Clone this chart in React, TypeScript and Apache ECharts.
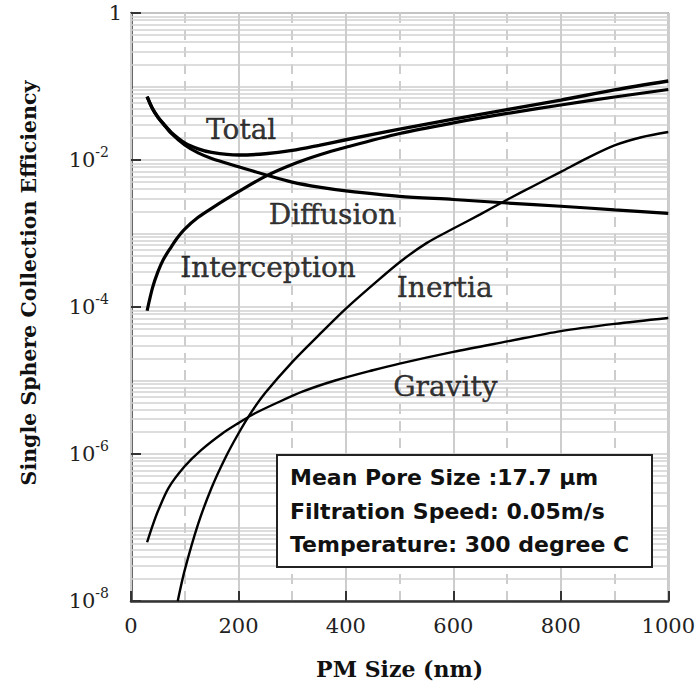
import React, { useEffect, useRef } from "react";
import * as echarts from "echarts";

// ---- data ----
const diffusionX = [30, 40, 50, 60, 75, 100, 125, 150, 200, 250, 300, 350, 400, 500, 600, 700, 800, 900, 1000];
const diffusionY = [0.073, 0.05, 0.038, 0.031, 0.023, 0.016, 0.0125, 0.0105, 0.0081, 0.0063, 0.005, 0.00427, 0.0038, 0.0032, 0.0029, 0.0026, 0.00235, 0.0021, 0.00188];

const interceptionX = [30, 40, 50, 60, 75, 85, 100, 125, 150, 200, 250, 300, 350, 400, 500, 600, 700, 800, 900, 1000];
const interceptionY = [8.9e-5, 1.82e-4, 3.0e-4, 4.4e-4, 6.6e-4, 8.5e-4, 1.15e-3, 1.66e-3, 2.2e-3, 3.7e-3, 6.0e-3, 8.7e-3, 0.0117, 0.0149, 0.0229, 0.032, 0.043, 0.056, 0.072, 0.091];

const totalX = [30, 40, 50, 60, 75, 100, 125, 150, 200, 250, 300, 350, 400, 500, 600, 700, 800, 900, 1000];
const totalY = [0.073, 0.05, 0.0385, 0.0314, 0.0237, 0.0171, 0.0142, 0.0127, 0.0117, 0.01216, 0.0135, 0.01585, 0.01884, 0.0263, 0.0359, 0.0485, 0.0653, 0.09, 0.119];

const inertiaX = [87, 100, 125, 150, 175, 200, 225, 250, 300, 350, 400, 450, 500, 550, 600, 650, 700, 750, 800, 850, 900, 950, 1000];
const inertiaY = [1e-8, 2.63e-8, 1.12e-7, 3.47e-7, 8.7e-7, 1.9e-6, 3.8e-6, 6.8e-6, 1.78e-5, 4.17e-5, 9.5e-5, 2.0e-4, 4.07e-4, 7.4e-4, 1.17e-3, 1.82e-3, 2.88e-3, 4.47e-3, 6.9e-3, 0.0107, 0.0158, 0.0204, 0.024];

const gravityX = [30, 40, 50, 70, 100, 130, 170, 200, 230, 270, 320, 380, 450, 500, 600, 700, 800, 900, 1000];
const gravityY = [6.3e-8, 1.05e-7, 1.66e-7, 3.47e-7, 6.8e-7, 1.12e-6, 1.9e-6, 2.63e-6, 3.55e-6, 4.9e-6, 7.1e-6, 1.0e-5, 1.38e-5, 1.7e-5, 2.45e-5, 3.4e-5, 4.7e-5, 5.9e-5, 7.1e-5];

const curveNames = ["Total", "Diffusion", "Interception", "Inertia", "Gravity"];
const curveLabelX = [205, 375, 255, 584, 585];
const curveLabelY = [0.0264, 1.84e-3, 3.5e-4, 1.84e-4, 8.2e-6];

const yLabelTicks = [1, 1e-2, 1e-4, 1e-6, 1e-8];
const minorDigits = [2, 3, 4, 5, 6, 7, 8, 9];
const decadeExps = [-8, -7, -6, -5, -4, -3, -2, -1];

const infoLines = ["Mean Pore Size :17.7 µm", "Filtration Speed: 0.05m/s", "Temperature: 300 degree C"];

const pairs = (xs: number[], ys: number[]) => xs.map((x, i) => [x, ys[i]]);

const SERIF = "DejaVu Serif";
const SANS = "DejaVu Sans";

export default function App() {
  const ref = useRef<HTMLDivElement>(null);

  useEffect(() => {
    if (!ref.current) return;
    const chart = echarts.init(ref.current, undefined, { renderer: "svg" });

    const minorValues: number[] = [];
    decadeExps.forEach((e) => minorDigits.forEach((d) => minorValues.push(d * Math.pow(10, e))));

    const lineSeries = (name: string, data: number[][], width: number) => ({
      name,
      type: "line",
      data,
      xAxisIndex: 0,
      yAxisIndex: 0,
      showSymbol: false,
      symbol: "none",
      smooth: 0.3,
      lineStyle: { color: "#000", width },
      z: 3,
    });

    const option: any = {
      animation: false,
      backgroundColor: "#fff",
      grid: {
        left: 131,
        top: 13,
        right: 27,
        bottom: 91,
        show: true,
        borderColor: "#8f8f8f",
        borderWidth: 1.5,
        backgroundColor: "transparent",
      },
      xAxis: [
        {
          type: "value",
          min: 0,
          max: 1000,
          interval: 200,
          position: "bottom",
          name: "PM Size (nm)",
          nameLocation: "middle",
          nameGap: 57,
          nameTextStyle: { fontFamily: SERIF, fontWeight: "bold", fontSize: 22, color: "#111" },
          axisLine: { show: true, lineStyle: { color: "#333", width: 2.5 } },
          axisTick: { show: true, inside: true, length: 10, lineStyle: { color: "#333", width: 2 } },
          axisLabel: {
            fontFamily: SERIF,
            fontSize: 21,
            color: "#222",
            margin: 14,
            formatter: (v: number) => String(v),
          },
          splitLine: { show: true, lineStyle: { color: "#cdcdcd", width: 2 } },
          z: 2,
        },
        {
          type: "value",
          min: 0,
          max: 1000,
          interval: 100,
          position: "bottom",
          axisLine: { show: false },
          axisTick: { show: false },
          axisLabel: { show: false },
          splitLine: { show: true, lineStyle: { color: "#cdcdcd", width: 2, type: [10, 7] } },
          z: 1,
        },
      ],
      yAxis: {
        type: "log",
        logBase: 10,
        min: 1e-8,
        max: 1,
        axisLine: { show: true, lineStyle: { color: "#333", width: 2.5 } },
        axisTick: { show: false },
        axisLabel: {
          margin: 9,
          color: "#222",
          formatter: (v: number) => {
            const e = Math.round(Math.log10(v));
            if (e % 2 !== 0) return "";
            if (e === 0) return "{one|1}";
            return "{b|10}{e|" + e + "}";
          },
          rich: {
            one: { fontFamily: SERIF, fontSize: 21, color: "#222", lineHeight: 30 },
            b: { fontFamily: SERIF, fontSize: 21, color: "#222", lineHeight: 30 },
            e: {
              fontFamily: SERIF,
              fontSize: 14,
              color: "#222",
              lineHeight: 20,
              verticalAlign: "top",
              padding: [0, 13, 0, 0],
            },
          },
        },
        splitLine: { show: true, lineStyle: { color: "#cdcdcd", width: 1.5 } },
      },
      series: [
        {
          name: "minorGrid",
          type: "line",
          data: [],
          silent: true,
          z: 1,
          markLine: {
            silent: true,
            z: 1,
            precision: 20,
            symbol: ["none", "none"],
            label: { show: false },
            emphasis: { disabled: true },
            lineStyle: { color: "#d2d2d2", width: 1.5, type: "solid" },
            data: minorValues.map((v) => ({ yAxis: v })),
          },
        },
        lineSeries("Gravity", pairs(gravityX, gravityY), 2.4),
        lineSeries("Inertia", pairs(inertiaX, inertiaY), 2.4),
        lineSeries("Diffusion", pairs(diffusionX, diffusionY), 3.2),
        lineSeries("Interception", pairs(interceptionX, interceptionY), 3.2),
        lineSeries("Total", pairs(totalX, totalY), 3.4),
        {
          name: "labels",
          type: "scatter",
          symbolSize: 0,
          z: 4,
          silent: true,
          data: curveNames.map((n, i) => ({ name: n, value: [curveLabelX[i], curveLabelY[i]] })),
          label: {
            show: true,
            position: "inside",
            formatter: (p: any) => p.name,
            fontFamily: SERIF,
            fontSize: 28,
            color: "#000",
            textBorderColor: "#000",
            textBorderWidth: 0.4,
          },
        },
      ],
    };

    chart.setOption(option);

    // inward ticks on the y axis at the labelled decades
    const tickEls = yLabelTicks.map((v) => {
      const p = chart.convertToPixel({ gridIndex: 0 }, [0, v]) as number[];
      return {
        type: "line",
        z: 20,
        shape: { x1: p[0], y1: p[1], x2: p[0] + 10, y2: p[1] },
        style: { stroke: "#333", lineWidth: 2 },
        silent: true,
      };
    });

    chart.setOption({
      graphic: {
        elements: [
          ...tickEls,
          {
            type: "text",
            x: 29,
            y: 283,
            rotation: Math.PI / 2,
            z: 20,
            silent: true,
            style: {
              text: "Single Sphere Collection Efficiency",
              fontFamily: SERIF,
              fontWeight: "bold",
              fontSize: 20.5,
              fill: "#111",
              align: "center",
              verticalAlign: "middle",
            },
          },
          {
            type: "rect",
            z: 30,
            silent: true,
            shape: { x: 277, y: 455, width: 375, height: 112 },
            style: { fill: "#fff", stroke: "#222", lineWidth: 2 },
          },
          {
            type: "text",
            z: 31,
            x: 290,
            y: 461,
            silent: true,
            style: {
              text: infoLines.join("\n"),
              fontFamily: SANS,
              fontWeight: "bold",
              fontSize: 22,
              lineHeight: 33.5,
              fill: "#111",
              align: "left",
              verticalAlign: "top",
            },
          },
        ],
      },
    });

    return () => chart.dispose();
  }, []);

  return (
    <div
      ref={ref}
      style={{ position: "fixed", left: 0, top: 0, width: 698, height: 692, background: "#fff" }}
    />
  );
}
